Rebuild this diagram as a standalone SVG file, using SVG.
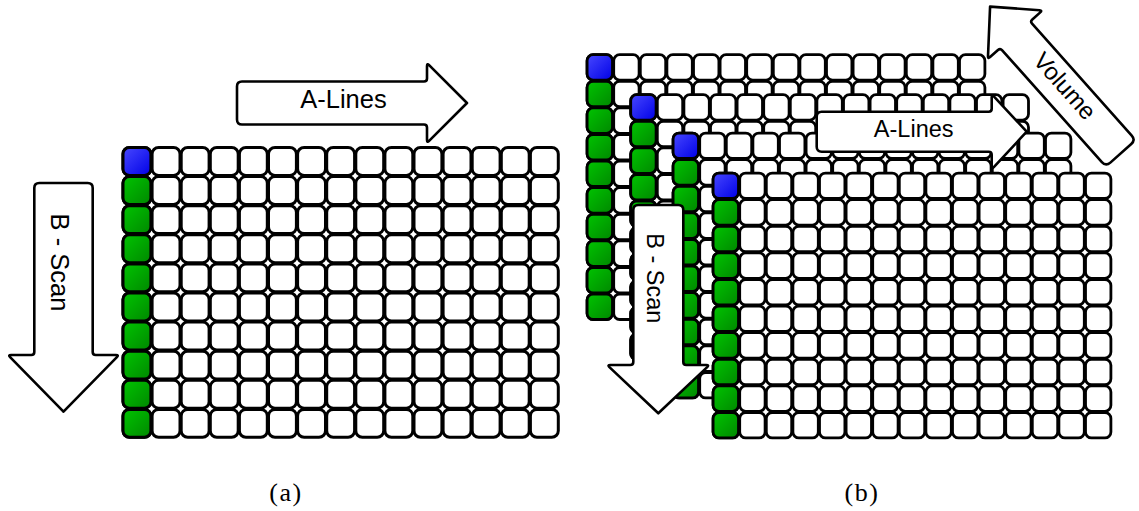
<svg xmlns="http://www.w3.org/2000/svg" xmlns:xlink="http://www.w3.org/1999/xlink" width="1139" height="511" viewBox="0 0 1139 511">
  <style>
    .arrow { fill: #ffffff; stroke: #000000; stroke-width: 2.6; stroke-linejoin: round; }
    .label { font-family: "Liberation Sans", Arial, sans-serif; fill: #000000; text-anchor: middle; }
    .caption { font-family: "Liberation Serif", "Times New Roman", serif; font-size: 26px; letter-spacing: 1.5px; fill: #000000; text-anchor: middle; }
    .ca { stroke: #000000; stroke-width: 3; }
    .cb { stroke: #000000; stroke-width: 2.8; }
  </style>
  <defs>
    <linearGradient id="gBlue" x1="0" y1="0" x2="1" y2="1">
      <stop offset="0" stop-color="#4848ff"/>
      <stop offset="1" stop-color="#0000e6"/>
    </linearGradient>
    <linearGradient id="gGreen" x1="0" y1="0" x2="1" y2="1">
      <stop offset="0" stop-color="#00c400"/>
      <stop offset="1" stop-color="#008800"/>
    </linearGradient>

    <!-- single-slice grid: 29.1 px pitch, neighbouring outlines overlap -->
    <rect id="cellA" width="27.9" height="27.9" rx="6.5" fill="#ffffff" stroke="#000000" stroke-width="3"/>
    <g id="rowA">
      <use href="#cellA" x="0"/><use href="#cellA" x="29.1"/><use href="#cellA" x="58.2"/>
      <use href="#cellA" x="87.3"/><use href="#cellA" x="116.4"/><use href="#cellA" x="145.5"/>
      <use href="#cellA" x="174.6"/><use href="#cellA" x="203.7"/><use href="#cellA" x="232.8"/>
      <use href="#cellA" x="261.9"/><use href="#cellA" x="291"/><use href="#cellA" x="320.1"/>
      <use href="#cellA" x="349.2"/><use href="#cellA" x="378.3"/><use href="#cellA" x="407.4"/>
    </g>

    <!-- volume slices: 26.6 px pitch -->
    <rect id="cellB" width="25.4" height="25.4" rx="6" fill="#ffffff" stroke="#000000" stroke-width="2.8"/>
    <g id="rowB">
      <use href="#cellB" x="0"/><use href="#cellB" x="26.6"/><use href="#cellB" x="53.2"/>
      <use href="#cellB" x="79.8"/><use href="#cellB" x="106.4"/><use href="#cellB" x="133"/>
      <use href="#cellB" x="159.6"/><use href="#cellB" x="186.2"/><use href="#cellB" x="212.8"/>
      <use href="#cellB" x="239.4"/><use href="#cellB" x="266"/><use href="#cellB" x="292.6"/>
      <use href="#cellB" x="319.2"/><use href="#cellB" x="345.8"/><use href="#cellB" x="372.4"/>
    </g>
    <g id="sliceB">
      <use href="#rowB" y="0"/><use href="#rowB" y="26.6"/><use href="#rowB" y="53.2"/>
      <use href="#rowB" y="79.8"/><use href="#rowB" y="106.4"/><use href="#rowB" y="133"/>
      <use href="#rowB" y="159.6"/><use href="#rowB" y="186.2"/><use href="#rowB" y="212.8"/>
      <use href="#rowB" y="239.4"/>
      <rect class="cb" x="0" y="0" width="25.4" height="25.4" rx="6" fill="url(#gBlue)"/>
      <rect class="cb" x="0" y="26.6" width="25.4" height="25.4" rx="6" fill="url(#gGreen)"/>
      <rect class="cb" x="0" y="53.2" width="25.4" height="25.4" rx="6" fill="url(#gGreen)"/>
      <rect class="cb" x="0" y="79.8" width="25.4" height="25.4" rx="6" fill="url(#gGreen)"/>
      <rect class="cb" x="0" y="106.4" width="25.4" height="25.4" rx="6" fill="url(#gGreen)"/>
      <rect class="cb" x="0" y="133" width="25.4" height="25.4" rx="6" fill="url(#gGreen)"/>
      <rect class="cb" x="0" y="159.6" width="25.4" height="25.4" rx="6" fill="url(#gGreen)"/>
      <rect class="cb" x="0" y="186.2" width="25.4" height="25.4" rx="6" fill="url(#gGreen)"/>
      <rect class="cb" x="0" y="212.8" width="25.4" height="25.4" rx="6" fill="url(#gGreen)"/>
      <rect class="cb" x="0" y="239.4" width="25.4" height="25.4" rx="6" fill="url(#gGreen)"/>
    </g>
  </defs>

  <rect width="1139" height="511" fill="#ffffff"/>

  <!-- (a) single B-scan -->
  <g id="grid-a" transform="translate(123,147.5)">
    <use href="#rowA" y="0"/><use href="#rowA" y="29.1"/><use href="#rowA" y="58.2"/>
    <use href="#rowA" y="87.3"/><use href="#rowA" y="116.4"/><use href="#rowA" y="145.5"/>
    <use href="#rowA" y="174.6"/><use href="#rowA" y="203.7"/><use href="#rowA" y="232.8"/>
    <use href="#rowA" y="261.9"/>
    <rect class="ca" x="0" y="0" width="27.9" height="27.9" rx="6.5" fill="url(#gBlue)"/>
    <rect class="ca" x="0" y="29.1" width="27.9" height="27.9" rx="6.5" fill="url(#gGreen)"/>
    <rect class="ca" x="0" y="58.2" width="27.9" height="27.9" rx="6.5" fill="url(#gGreen)"/>
    <rect class="ca" x="0" y="87.3" width="27.9" height="27.9" rx="6.5" fill="url(#gGreen)"/>
    <rect class="ca" x="0" y="116.4" width="27.9" height="27.9" rx="6.5" fill="url(#gGreen)"/>
    <rect class="ca" x="0" y="145.5" width="27.9" height="27.9" rx="6.5" fill="url(#gGreen)"/>
    <rect class="ca" x="0" y="174.6" width="27.9" height="27.9" rx="6.5" fill="url(#gGreen)"/>
    <rect class="ca" x="0" y="203.7" width="27.9" height="27.9" rx="6.5" fill="url(#gGreen)"/>
    <rect class="ca" x="0" y="232.8" width="27.9" height="27.9" rx="6.5" fill="url(#gGreen)"/>
    <rect class="ca" x="0" y="261.9" width="27.9" height="27.9" rx="6.5" fill="url(#gGreen)"/>
  </g>

  <g id="arrow-a-lines-a">
    <path class="arrow" transform="translate(237,103)" d="M5,-21.5 L187,-21.5 Q190,-21.5 190,-24.5 L190,-37 Q190,-40 192.1,-37.9 L230,0 L192.1,37.9 Q190,40 190,37 L190,24.5 Q190,21.5 187,21.5 L5,21.5 Q0,21.5 0,16.5 L0,-16.5 Q0,-21.5 5,-21.5 Z"/>
    <text class="label" x="343.5" y="108" font-size="25.5">A-Lines</text>
  </g>

  <g id="arrow-b-scan-a">
    <path class="arrow" transform="translate(63.5,183) rotate(90)" d="M5,-29.2 L169,-29.2 Q172,-29.2 172,-32.2 L172,-52.5 Q172,-55.5 174.1,-53.4 L228.7,0 L174.1,53.4 Q172,55.5 172,52.5 L172,32.2 Q172,29.2 169,29.2 L5,29.2 Q0,29.2 0,24.2 L0,-24.2 Q0,-29.2 5,-29.2 Z"/>
    <text class="label" transform="translate(50.5,262.5) rotate(90)" font-size="25.5">B - Scan</text>
  </g>

  <!-- (b) stack of B-scans forming a volume -->
  <g id="grid-b1"><use href="#sliceB" x="587.1" y="54.7"/></g>
  <g id="grid-b2"><use href="#sliceB" x="630.7" y="94.7"/></g>
  <g id="grid-b3"><use href="#sliceB" x="673.1" y="133.1"/></g>

  <g id="arrow-a-lines-b">
    <path class="arrow" transform="translate(816.7,131.7)" d="M5,-20 L172,-20 Q175,-20 175,-23 L175,-34.5 Q175,-37.5 177.1,-35.4 L210,0 L177.1,35.4 Q175,37.5 175,34.5 L175,23 Q175,20 172,20 L5,20 Q0,20 0,15 L0,-15 Q0,-20 5,-20 Z"/>
    <text class="label" x="913.7" y="136.5" font-size="23.5">A-Lines</text>
  </g>

  <g id="arrow-b-scan-b">
    <path class="arrow" transform="translate(658.3,205) rotate(90)" d="M5,-25 L157,-25 Q160,-25 160,-28 L160,-48 Q160,-51 162.1,-48.9 L208.3,0 L162.1,48.9 Q160,51 160,48 L160,28 Q160,25 157,25 L5,25 Q0,25 0,20 L0,-20 Q0,-25 5,-25 Z"/>
    <text class="label" transform="translate(647,278.3) rotate(90)" font-size="23.5">B - Scan</text>
  </g>

  <g id="grid-b4"><use href="#sliceB" x="713.1" y="173.1"/></g>

  <g id="arrow-volume">
    <path class="arrow" transform="translate(1120.8,153.3) rotate(228.3)" d="M6,-20 L155.8,-20 Q158.8,-20 158.8,-23 L158.8,-33.6 Q158.8,-36.6 160.9,-34.5 L196.5,0 L160.9,34.5 Q158.8,36.6 158.8,33.6 L158.8,23 Q158.8,20 155.8,20 L6,20 Q0,20 0,14 L0,-14 Q0,-20 6,-20 Z"/>
    <text class="label" transform="translate(1058.7,91.5) rotate(48.3)" font-size="24">Volume</text>
  </g>

  <g id="captions">
    <text class="caption" x="286" y="501">(a)</text>
    <text class="caption" x="862" y="501">(b)</text>
  </g>
</svg>
